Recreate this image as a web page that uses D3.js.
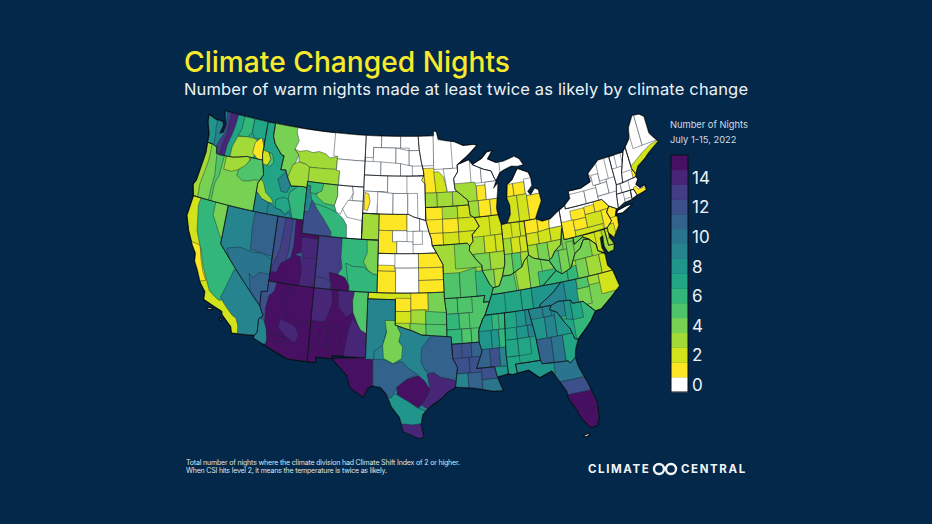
<!DOCTYPE html>
<html>
<head>
<meta charset="utf-8">
<script src="https://cdn.jsdelivr.net/npm/d3@7"></script>
<style>
  html, body { margin: 0; padding: 0; background: #03284a; }
  svg { display: block; }
  text { font-family: Inter, "Open Sans", sans-serif; }
</style>
</head>
<body>
<svg id="chart" width="932" height="524"></svg>
<script>
// Climate divisions, one pair of arrays per state. rings*[0] is the state outline,
// the other rings are painted over it in order and clipped to the outline.
// Points are "west longitude,latitude". nights*[i] belongs to rings*[i].
const ringsWA = ["124.7,48.38 123.6,48.15 122.8,48.15 122.6,47.9 122.85,47.2 122.4,47.35 122.3,48 122.55,48.5 122.75,49 117.03,49 117.04,46.42 116.92,46 118.98,46 119.3,45.93 120.5,45.7 121.2,45.65 122.2,45.6 122.7,45.65 122.8,46.1 123.4,46.25 124.05,46.27 124.1,46.9 124.6,47.8",
  "123.45,50 123.45,47.6 123.3,47 123.2,45 116,45 116,50", "122.6,50 122.3,48.2 122.2,47.4 122.6,46.8 122.9,46.2 122.9,45 116,45 116,50",
  "121.9,50 121.9,48 121.9,47.3 122.2,46.5 122.3,45 116,45 116,50", "120.8,50 121.1,48 121.3,47.3 121.6,46.5 121.7,45 116,45 116,50",
  "120,50 120.2,48 120.5,47.4 119.3,47.5 118.8,47.9 118.8,50", "118.8,50 118.8,47.9 118.3,47.5 117.6,47.6 117,47.6 116,50",
  "120.5,47.35 119.3,47.5 118.3,47.5 117.7,47.2 118,46.3 118.5,45 121,45 120.95,46.5", "118.2,47.2 117.5,47.7 116.9,46.9 116.8,45.9 117.4,45.9 118.3,46.4"];
const nightsWA = [8, 9, 13, 14, 7, 6, 7, 3, 1];

const ringsOR = ["124.05,46.27 123.95,45.5 124.1,44.5 124.3,43.2 124.55,42.84 124.2,42 117.03,42 117.03,44.2 116.5,44.9 116.92,46 118.98,46 119.3,45.93 120.5,45.7 121.2,45.65 122.2,45.6 122.7,45.65 122.8,46.1 123.4,46.25",
  "123.5,47 123.4,45 123.6,44 123.8,43 123.6,41 116,41 116,47", "122.8,47 122.5,45 122.3,44 122.4,43 122.4,41 116,41 116,47",
  "121.6,47 121.7,45 121.8,44 122.1,43.4 122.1,41 116,41 116,47", "121.4,47 121.4,44.6 120.4,44.6 119.5,44.9 118.9,45.2 118.5,45.7 118.5,47",
  "118.9,45.3 119.6,44.9 119.7,44.4 118.9,44.1 118.1,44.2 117.4,44.4 116,44.4 116,46.2 118.2,46.2 118.5,45.7"];
const nightsOR = [3, 4, 5, 4, 3, 5];

const ringsCA = ["124.2,42 124.4,40.4 123.8,39.3 123,38.3 122.5,37.8 122.4,37.2 121.9,36.6 121.3,35.7 120.65,35.15 120.6,34.55 119.3,34.2 118.5,34 118.4,33.75 117.3,33 117.1,32.53 114.7,32.72 114.5,33 114.55,34 114.15,34.3 114.63,35 120,39 120,42",
  "123.3,38.6 122.2,38.5 121.8,37.5 121.3,36.6 120.8,36 122.5,35.5 124,37", "123.2,42.5 123.4,41.4 123.1,40.3 122.9,39.5 122.3,38.6 121.9,38 121.4,37 120.7,36 120.2,35.3 119.6,35 119,34.75 118.6,34.9 118,34.5 116,34 116,43",
  "121.5,42.5 121.5,41 120.8,40.2 120.2,39.5 119,39 119,42.5", "118.9,35 118.4,34.6 118,34.3 117.4,33.9 116.9,33.7 116.6,33.2 116.4,32 113,32 113,37 118,37.3 118.5,36"];
const nightsCA = [2, 1, 6, 4, 9];

const ringsNV = ["120,42 114.05,42 114.05,36.2 114.7,36.1 114.63,35 120,39",
  "116.7,43 116.8,40.8 116.6,39.1 113,38.8 113,43", "119.2,38.8 117.8,39.1 116.2,38.9 115.2,39 114,38.6 113,38 113,35 117,35", "116.3,37.3 115.8,37 115.2,37.5 114,37.5 113,35 115.6,35"];
const nightsNV = [9, 11, 10, 11];

const ringsUT = ["114.05,42 111.05,42 111.05,41 109.05,41 109.05,37 114.05,37",
  "113,42.5 112.2,42.5 112.3,39.6 112.6,38.2 113.6,37.5 114,38 113.3,39.5", "111.9,42.5 108,42.5 108,40.3 110,40 110.8,39.6 111.6,39.3 112,38.8 111.8,40",
  "111,40.7 108,40.7 108,38.9 110.4,39 110.9,39.6", "113,38.5 112.2,38.9 111.6,39.3 110.9,39.2 110.6,38.2 110.6,37.5 111,36.5 114,36.5",
  "111,39.2 108,39.2 108,36.5 110.8,36.5 110.6,38.2", "115,37.75 113,37.75 112.5,37.3 112.5,36 115,36"];
const nightsUT = [12, 13, 15, 14, 15, 14, 15];

const ringsAZ = ["114.05,37 109.05,37 109.05,31.33 111.07,31.33 114.8,32.5 114.72,32.72 114.5,33 114.55,34 114.15,34.3 114.63,35 114.7,36.1 114.05,36.2",
  "111.5,37.2 108.5,37.2 108.5,34.5 110.5,34.2 111.6,34.6 112,35.5", "112.3,34.3 110.7,33.9 110.2,33.3 110.5,32.6 111.5,33 112.4,33.6",
  "115,37.2 113.1,37.2 113.3,36.3 113.8,35.9 114,35 113.9,34 115,33.5", "115,34.2 114,34 113.6,33.3 113.4,32.7 113.5,32.2 115.5,32",
  "113.6,33.3 112.4,33 111.5,33 111.6,32.6 113.4,32.5"];
const nightsAZ = [15, 15, 14, 12, 9, 15];

const ringsNM = ["109.05,37 103,37 103.04,36.5 103.06,32 106.5,32 106.6,31.75 108.2,31.78 108.2,31.33 109.05,31.33",
  "109.2,37.2 107.1,37.2 106.9,36 107.3,35 107.6,34.5 109.2,34.5", "106.4,37.2 104.5,37.2 104.7,36.3 104.6,35.4 105.3,35 106.2,35.7",
  "108,34 107.3,34.3 107.2,33.3 107.4,32.7 108.2,32.8", "106.8,34.2 106,34.2 105.9,33 106.1,32 107,32", "104.5,37.2 102.5,37.2 102.5,33.6 103.6,33.9 104.1,34.6 104.6,35.4 104.7,36.3",
  "104.6,35 103.7,34.1 102.5,33.6 102.5,31 105.3,31 105.3,32.5 105,34"];
const nightsNM = [15, 14, 14, 15, 15, 5, 14];

const ringsTX = ["103.04,36.5 100,36.5 100,34.56 98.1,34.1 97.2,33.8 94.5,33.6 94.04,33.55 94.04,33 94,31.9 93.55,31.2 93.85,29.7 94.7,29.35 95.3,28.9 96.4,28.35 97.2,27.7 97.4,26.9 97.15,25.95 97.6,25.85 99.1,26.4 99.5,27.5 100.3,28.3 100.8,29.25 101.4,29.77 102.3,29.88 102.7,29.7 103.15,28.98 104.5,29.65 104.9,30.6 106.5,31.75 103.06,32",
  "104,37 99.5,37 99.5,34.9 100.9,34.2 101.1,33.6 101.3,33 102.2,32.5 102.2,31.8 103.2,31.8", "101.1,34.9 99.9,34.9 99.7,34.3 99.4,33.9 99.6,33.3 99.2,32.9 99.3,32 100.2,31.6 101.2,32 101.3,33 100.9,34",
  "96,33.9 93.5,33.9 93.5,30.4 94.7,30.2 95.8,30.7 96.8,31 97.3,31.7 97.2,32.8", "99.8,29.8 98.8,30.4 97.6,30.7 97,30.3 96.4,29.6 96.8,28.9 97.6,28.2 98.6,28.7 99.7,29.1",
  "96.7,30.8 96,30.9 95.3,30.5 94.6,30.4 93.5,30.1 93.5,29 96.2,27.9 97.3,28.4 96.8,29 96.4,29.6", "100.9,29.5 99.7,29.2 98.6,28.7 97.7,28.2 97,28 96.9,27.2 97,26.5 99,26 101,26",
  "99.5,27 98.2,26.9 97.2,27 96.8,27 96.8,25 99.5,25", "102.3,31.9 101.2,31.9 100.2,31.6 99.3,31.8 98.5,31.2 97.7,30.8 98.8,30.4 99.8,29.8 100.3,29 101.2,29 102.2,29.5",
  "107,32.3 103.1,32.3 103.1,31.9 102.3,31.9 102.2,29 104,28 107,30"];
const nightsTX = [9, 9, 4, 11, 15, 14, 8, 14, 11, 15];

const ringsID = ["117.04,49 116.05,49 116.05,48 115.7,47.45 114.7,46.7 114.35,46.65 114.5,45.55 113.9,45.6 113.45,44.95 113,44.45 111.5,44.55 111.05,44.5 111.05,42 117.03,42 117.03,44.2 116.5,44.9 116.92,46 117.04,46.42",
  "117.2,46.8 116.3,46.7 115.9,46.2 116.2,45.7 117.2,45.7", "116.3,46.7 115.8,46.6 115.5,46 115.9,45.6 116.2,45.7 115.9,46.2", "114.7,44.8 113.8,45.5 113,44.6 113.4,43.9 114.1,43.9",
  "117.2,43.7 116.3,43.1 115.4,42.9 115.2,42.3 115,41.8 117.2,41.8", "117.2,44.6 116.4,44.4 115.9,43.6 115.1,43.2 114.8,42.9 115.4,42.9 116.3,43.1 117.2,43.7",
  "115.4,42.9 114.5,42.6 113.8,42.5 113.3,42.2 112.8,42.5 112.6,42.2 112.3,41.8 115.4,41.8", "114.6,43.2 113.7,43.5 113.1,43.4 112.7,42.7 113.3,42.2 113.8,42.5 114.5,42.6",
  "113.1,43.9 112,44.6 110.9,44.6 110.9,41.8 112.3,41.8 112.7,42.7 113.1,43.4"];
const nightsID = [7, 2, 5, 9, 9, 3, 9, 7, 6];

const ringsMT = ["116.05,49 104.05,49 104.05,45 111.05,45 111.05,44.5 111.5,44.55 113,44.45 113.45,44.95 113.9,45.6 114.5,45.55 114.35,46.65 114.7,46.7 115.7,47.45 116.05,48",
  "117,50 113.1,50 113.1,48.6 112.7,48 113.1,47.3 112.5,46.9 113,45.9 112.9,44 117,44", "113.1,46.1 112.4,46.4 111.5,46.3 111,46.1 110.9,44 114,44",
  "112.5,46.9 113.1,47.3 112.5,47.2 111.5,47.35 110.8,47.25 110,47.4 109.2,47.3 108.5,47 107.6,47.2 107.6,46.1 111,46.1 111.5,46.3 112.4,46.4", "111,46.1 107.2,46.2 107.2,44 111,44",
  "108.1,50 108.1,47.2 107.6,47.2 107.6,47 103,47 103,50", "107.6,47 103,47 103,44 107.2,44 107.2,46.1 107.6,46.1"];
const nightsMT = [0, 4, 3, 3, 3, 0, 0];

const ringsWY = ["111.05,45 104.05,45 104.05,41 111.05,41",
  "111.5,45.3 106.2,45.3 106.9,44.3 107.3,43.1 107.6,42.3 108.5,42 110,43.4 111.5,43.4", "109.2,45.2 107.3,45.2 107.2,44.2 107.5,43.4 108.8,43.5 109.8,44",
  "107.3,45.2 105.5,45.2 105.3,44.5 105.8,43.8 106.5,43.2 106.7,42.8 107.2,42.9 107.5,43.4 107.2,44.2", "105.5,45.2 103.9,45.2 103.9,43.9 105.4,43.9 105.3,44.5",
  "105.9,43.9 103.9,43.9 103.9,42.4 105.9,42.6 106.5,43.2", "110,43.4 108.5,43.2 107.2,42.9 106.4,42.5 105.9,42 105.8,40.8 107.6,40.8", "111.5,43 110.4,43.4 110.2,43.6 109.6,43 108.8,42.4 107.7,41.4 107.6,40.8 111.5,40.8",
  "111.5,44.7 110.6,44.7 110.6,44.3 110.3,43.6 110.5,42.7 111.5,42.7", "111.5,45.3 108.9,45.3 109.2,44.4 110,44.1 110.6,44.2 110.6,44.7 111.5,44.7"];
const nightsWY = [0, 6, 4, 0, 0, 0, 6, 12, 9, 6];

const ringsCO = ["109.05,41 102.05,41 102.05,37 109.05,37",
  "103.4,41.2 101,41.2 101,38.2 102.6,38.4 103.2,38.7 103.7,39.3 103.3,40", "105.7,39.1 104.9,38.9 103.7,38.9 102.6,38.4 101,38.3 101,36 105.2,36 105.3,37.5", "110,41.3 106.3,41.3 106.3,39.5 106.1,38.7 107,37.7 107.5,37.6 108,37.3 110,36.9",
  "107.5,38.3 106.5,38.2 105.7,38 105.2,37.4 105.2,36.8 107.2,36.8 107.3,37.5", "110,38 108,37.8 107.4,37.6 107.2,36.8 110,36.8"];
const nightsCO = [6, 4, 6, 13, 15, 13];

const ringsND = ["104.05,49 97.2,49 97.1,48 96.85,47 96.6,46.3 96.55,45.94 104.05,45.94",
  "105,50 102,50 102,48.1 103,48.1 103,47.3 105,47.3", "102,50 99.5,50 99.5,48.1 102,48.1", "99.5,50 96,50 96,47.9 98.4,47.9 98.4,48.1 99.5,48.1", "103,48.1 100.1,48.1 100.1,46.9 103,46.9", "100.1,48.1 98.4,47.9 98.4,46.7 100.1,46.9",
  "98.4,47.9 96,47.9 96,46.7 98.4,46.7", "105,47 102,47 102,45 105,45", "102,47 99.5,46.9 99.5,45 102,45", "99.5,46.9 98,46.7 98,45 99.5,45"];
const nightsND = [0, 0, 0, 0, 0, 0, 0, 0, 0, 0];

const ringsSD = ["104.05,45.94 96.55,45.94 96.45,45.3 96.45,43.5 96.45,42.5 97.9,42.8 98.5,43 104.05,43",
  "105,47 101.1,47 101.1,44.7 105,44.7", "101.1,47 98.7,47 98.7,44.6 101.1,44.6", "105,44.7 101.5,44.7 101.5,43.7 102.3,43.7 102.3,42 105,42", "103.9,44.6 103.4,44.5 103.2,43.9 103.5,43.2 103.9,43.3", "102.3,44.7 100.4,44.6 100.4,42 102.3,42",
  "100.4,44.6 98.6,44.6 98.6,42 100.4,42", "98.6,44.6 97.4,44.6 97.4,42 98.6,42"];
const nightsSD = [0, 0, 0, 0, 1, 0, 0, 0];

const ringsNE = ["104.05,43 98.5,43 97.9,42.8 96.45,42.5 96.1,41.6 95.85,41.1 95.77,40.58 95.3,40 102.05,40 102.05,41 104.05,41",
  "102.05,44 98.7,44 98.7,41.75 102.05,41.75", "102.05,41.75 100.4,41.75 100.4,40.95 99.9,40.95 99.9,39.5 102.05,39.5", "100.4,41.75 98.7,41.75 98.7,40.9 100.4,40.9",
  "99.9,40.95 98,40.9 98,39.5 99.9,39.5", "98.7,43.5 97.2,43.5 97.2,41.7 98.7,41.7", "97.2,43.5 95,43.5 95,41.7 97.2,41.7", "98,41.7 96.9,41.7 96.9,40.7 98,40.7"];
const nightsNE = [0, 1, 1, 0, 0, 0, 0, 0];
// the panhandle is painted last so its green sits on top of the white base
const ringsNEP = ["104.05,43 102.05,43 102.05,41 104.05,41"];
const nightsNEP = [3];

const ringsKS = ["102.05,40 95.3,40 94.62,39.1 94.62,37 102.05,37",
  "102.05,39.1 100.1,39.1 100.1,38.65 102.05,38.65", "103,38.65 100,38.65 100,36 103,36", "100.1,40.5 97.4,40.5 97.4,38.9 100.1,38.9", "100,38.9 97.4,38.9 97.4,36 100,36",
  "97.4,41 94,41 94,38.9 97.4,38.9", "97.4,38.9 94,38.9 94,37.95 97.4,37.95", "97.4,37.95 94,37.95 94,36 97.4,36"];
const nightsKS = [0, 1, 1, 0, 0, 1, 1, 1];

const ringsOK = ["103,37 94.62,37 94.6,36.5 94.45,35.4 94.5,33.6 97.2,33.8 98.1,34.1 100,34.56 100,36.5 103.04,36.5",
  "100,36.6 98.3,36.6 98.3,35.6 100,35.6", "98.3,37.1 96.4,37.1 96.4,35.7 98.3,35.7", "96.4,37.1 94,37.1 94,35.4 96.4,35.4", "100,35.6 98.3,35.6 98.3,34.6 100,34.6", "98.3,35.7 96.7,35.7 96.7,34.6 98.3,34.6",
  "96.7,35.6 94,35.4 94,34.5 96.7,34.5", "100,34.7 98.4,34.7 98.4,33 100,33", "98.4,34.7 96.7,34.6 96.7,33 98.4,33", "96.7,34.6 94,34.5 94,33 96.7,33"];
const nightsOK = [2, 1, 1, 4, 2, 3, 5, 3, 4, 5];

const ringsMN = ["97.2,49 95.15,49 95.15,49.38 94.8,49.3 94.6,48.7 93.5,48.55 92.5,48.45 91.4,48.1 90,48.1 89.6,48 90.9,47.3 92.1,46.75 92.3,46.65 92.3,46.1 92.85,45.6 92.75,44.75 91.25,43.85 91.2,43.5 96.45,43.5 96.45,45.3 96.85,45.6 96.55,46 96.6,46.3 96.85,47 97.1,48",
  "98,50 95.2,50 95.2,47.6 95.3,46.7 98,46.7", "95.2,50 93,50 92.9,46.4 95.3,46.4", "97.5,46.5 95.3,46.5 95.2,45.9 95.1,44.6 97.5,44.6", "95.3,46.2 94.7,46.2 94.1,45.8 93.7,44.6 95.1,44.6", "94.1,46.4 92,46.4 92,44.6 93.7,44.6",
  "97,44.6 95,44.6 95,43 97,43", "95,44.6 93.1,44.6 93.1,43 95,43", "93.1,44.6 91,44.6 91,43 93.1,43"];
const nightsMN = [0, 0, 0, 1, 2, 0, 3, 3, 3];

const ringsWI = ["92.3,46.65 90.8,46.95 90.4,46.55 89,46.1 88.1,45.9 87.8,45.35 87.6,45.1 88,44.55 87.4,44.9 87.55,44.3 87.9,43 87.8,42.5 90.65,42.5 91.1,42.7 91.2,43.5 91.25,43.85 92.75,44.75 92.85,45.6 92.3,46.1",
  "90.7,47 89.4,47 89.4,45.1 90.7,45.1", "89.4,47 87,47 87,45.1 89.4,45.1", "93,45.2 90.3,45.2 90.1,44.9 90.1,43.75 93,43.75", "90.1,44.9 89,44.9 89,43.75 90.1,43.75", "89,45.1 87,45.1 87,43.75 89,43.75",
  "91.5,43.75 90,43.75 90,42 91.5,42", "90,43.75 88.6,43.75 88.6,42 90,42", "88.6,43.75 87,43.75 87,42 88.6,42"];
const nightsWI = [0, 0, 0, 3, 1, 0, 3, 1, 1];

const ringsUP = ["90.4,46.55 89.1,46.95 88.4,47.4 87.7,47.45 88.4,46.85 87.4,46.5 86.5,46.5 85,46.75 84.4,46.5 84,46 84.75,45.95 85.5,46.05 86.5,45.85 87,45.7 87.6,45.1 87.8,45.35 88.1,45.9 89,46.1", "87,47 83,47 83,45 87,45"];
const nightsUP = [0, 0];

const ringsLP = ["84.75,45.78 83.5,45.35 83.3,44.9 83.3,44.3 83.9,43.9 83.6,43.6 83,44.05 82.6,43.9 82.45,43 83.1,42.2 83.45,41.73 86.8,41.76 86.3,42.4 86.25,43.1 86.5,43.65 86.25,44.7 85.6,45 85,45.6",
  "87,44.7 85.6,44.7 85.6,43.75 87,43.75", "85.6,44.7 84.2,44.7 84.2,43.75 85.6,43.75", "84.2,44.9 82,44.9 82,43.6 84.2,43.6", "87,43.75 85.3,43.75 85.3,41 87,41", "85.3,43.75 84.1,43.75 84.1,41 85.3,41", "84.1,43.6 82,43.6 82,41 84.1,41"];
const nightsLP = [0, 1, 1, 0, 2, 2, 1];

const ringsIA = ["96.45,43.5 91.2,43.5 91.1,42.7 90.65,42.5 90.15,41.8 91.05,41.2 91,40.7 91.42,40.38 91.7,40.6 95.77,40.58 95.85,41.1 96.1,41.6 96.45,42.5",
  "94.45,44 92.6,44 92.6,42.55 94.45,42.55", "92.6,44 90,44 90,42.55 92.6,42.55", "97,42.55 94.45,42.55 94.45,41.5 97,41.5", "94.45,42.55 92.6,42.55 92.6,41.5 94.45,41.5", "92.6,42.55 90,42.55 90,41.5 92.6,41.5",
  "97,41.5 94.45,41.5 94.45,40 97,40", "94.45,41.5 92.6,41.5 92.6,40 94.45,40", "92.6,41.5 90,41.5 90,40 92.6,40"];
const nightsIA = [1, 3, 2, 1, 1, 2, 1, 2, 2];

const ringsMO = ["95.77,40.58 91.7,40.6 91.42,40.38 91.5,40 90.75,39.25 90.2,38.8 90.2,38.4 89.5,37.3 89.15,37 89.4,36.5 89.7,36 90.35,36 90.15,36.5 94.6,36.5 94.62,39.1 95.3,40",
  "93.2,41 90,41 90,38.7 93.2,38.7", "96,38.4 92.8,38.4 92.8,36 96,36", "92.8,38.4 90.9,38.7 90.9,36 92.8,36", "91,38.4 89,38.4 89,35.5 91,35.5"];
const nightsMO = [3, 4, 5, 5, 6];

const ringsIL = ["90.65,42.5 87.8,42.5 87.53,41.7 87.53,39.35 87.6,38.7 88,37.8 88.45,37.1 89.15,37 89.5,37.3 90.2,38.4 90.2,38.8 90.75,39.25 91.5,40 91.42,40.38 91,40.7 91.05,41.2 90.15,41.8",
  "88.9,43 87,43 87,41 88.9,41", "92,41 89.7,41 89.7,39.7 92,39.7", "89.7,41 88.4,41 88.4,39.7 89.7,39.7", "88.4,41 87,41 87,39.7 88.4,39.7", "91,39.7 89.2,39.7 89.2,38.4 91,38.4", "89.2,39.7 87,39.7 87,38.4 89.2,38.4", "91,38.4 88.9,38.4 88.9,36.5 91,36.5", "88.9,38.4 87,38.4 87,36.5 88.9,36.5"];
const nightsIL = [2, 2, 3, 2, 2, 4, 3, 4, 3];

const ringsIN = ["87.53,41.7 86.8,41.76 84.8,41.7 84.8,39.1 85.4,38.7 85.7,38.3 86.5,38 87.1,37.8 88,37.8 87.6,38.7 87.53,39.35",
  "86.4,42 85.4,42 85.4,40.6 86.4,40.6", "85.4,42 84,42 84,40.6 85.4,40.6", "88,40.6 86.6,40.6 86.6,39.4 88,39.4", "86.6,40.6 85.6,40.6 85.6,39.4 86.6,39.4", "85.6,40.6 84,40.6 84,39.4 85.6,39.4", "88,39.4 86.7,39.4 86.7,37.5 88,37.5", "86.7,39.4 85.7,39.4 85.7,37.5 86.7,37.5", "85.7,39.4 84,39.4 84,38 85.7,38"];
const nightsIN = [2, 2, 2, 3, 2, 2, 4, 5, 3];

const ringsOH = ["84.8,41.7 83.45,41.73 82.7,41.45 81.7,41.5 80.52,42 80.52,40.64 80.6,40.6 81,39.4 81.8,39 82.2,38.6 82.6,38.4 83.7,38.65 84.3,38.8 84.8,39.1",
  "85,42 83.3,42 83.3,40.7 85,40.7", "83.3,42 81.8,42 82,40.8 83.3,40.7", "81.8,42 80,42 80,40.8 82,40.8", "85,40.7 83.4,40.7 83.4,39.8 85,39.8", "83.4,40.7 82,40.8 82,39.8 83.4,39.8", "82,40.8 80,40.8 80,39.8 82,39.8",
  "85,39.8 83.7,39.8 83.7,38 85,38", "83.7,39.8 82.5,39.8 82.5,38 83.7,38", "82.5,39.8 80,39.8 80,38 82.5,38"];
const nightsOH = [3, 1, 1, 0, 2, 2, 2, 3, 4, 3];

const ringsKY = ["89.4,36.5 89.15,37 88.45,37.1 88,37.8 87.1,37.8 86.5,38 85.7,38.3 85.4,38.7 84.8,39.1 84.3,38.8 83.7,38.65 82.6,38.4 82,37.55 83.68,36.6",
  "90,39 86.9,39 86.5,36 90,36", "86.6,39 85,39 85,36 86.3,36", "85,39.5 83.6,39.5 83.4,36 85,36", "84,37.7 81,37.7 81,36 84,36"];
const nightsKY = [4, 5, 3, 4, 6];

const ringsTN = ["90.3,35 89.7,36 89.4,36.5 83.68,36.6 81.68,36.59 82.6,36 83.1,35.75 84.3,35.2 84.32,35",
  "88,37 86.2,37 86.2,34 88,34", "86.2,37 85,37 85,34 86.2,34", "85,37 81,37 81,34 85,34"];
const nightsTN = [7, 7, 7, 8];

const ringsAR = ["94.6,36.5 90.15,36.5 90.35,36 89.7,36 90.3,35 90.6,34.7 91.1,33.9 91.15,33 94.04,33 94.04,33.55 94.5,33.6 94.45,35.4",
  "95,37 93.2,37 93.2,35.3 95,35.3", "93.2,37 91.6,37 91.6,35.3 93.2,35.3", "95,35.3 93.1,35.3 93.1,34.1 95,34.1", "93.1,35.3 92,35.3 92,34.1 93.1,34.1", "95,34.1 92.9,34.1 92.9,32 95,32", "92.9,34.1 91.9,34.1 91.9,32 92.9,32", "91.9,34.1 90,34.1 90,32 91.9,32"];
const nightsAR = [5, 5, 5, 6, 5, 6, 5, 5];

const ringsLA = ["94.04,33 91.15,33 90.9,32.3 91.6,31 89.75,31 89.55,30.2 89.4,29.8 89.1,29.1 90.1,29.15 91.3,29.4 92.2,29.55 93.85,29.7 93.55,31.2 94,31.9",
  "93,33.5 92,33.5 92,31.9 93,31.9", "92,33.5 90.5,33.5 90.5,31.9 92,31.9", "94.5,31.9 92.3,31.9 92.3,30.7 94.5,30.7", "92.3,31.9 90.5,31.9 90.5,30.7 92.3,30.7", "94.5,30.7 92.5,30.7 92.5,29 94.5,29", "92.5,30.7 91.1,30.7 91.1,29 92.5,29", "91.1,31.1 89,31.1 89,30.1 91.1,30.1", "91.1,30.1 88.8,30.1 88.8,28.8 91.1,28.8"];
const nightsLA = [12, 12, 11, 12, 12, 9, 11, 12, 10];

const ringsMS = ["90.3,35 88.2,35 88.45,31.9 88.4,30.35 89.55,30.2 89.75,31 91.6,31 90.9,32.3 91.15,33 91.1,33.9 90.6,34.7",
  "89.6,35.5 88.8,35.5 88.8,33.8 89.6,33.8", "88.9,35.5 87.9,35.5 87.9,33.8 88.9,33.8", "92,33.8 89.8,33.8 89.8,32.4 92,32.4", "89.8,33.8 89,33.8 89,32.4 89.8,32.4", "89,33.8 87.9,33.8 87.9,32.4 89,32.4",
  "92,32.4 90.1,32.4 90.1,31 92,31", "90.1,32.4 89.1,32.4 89.1,31 90.1,31", "89.1,32.4 88,32.4 88,30.9 89.1,31", "90,31 88,30.9 88,30 90,30"];
const nightsMS = [7, 6, 6, 8, 8, 6, 11, 12, 9, 8];

const ringsAL = ["88.2,35 85.6,35 85.18,32.9 85.1,32 85,31 87.6,31 87.5,30.3 88,30.25 88.4,30.35 88.45,31.9",
  "87,35.5 86,35.5 86,33.8 87,33.8", "86,35.5 85,35.5 85,33.8 86,33.8", "89,33.8 87.1,33.8 87.1,32.9 89,32.9", "87.1,33.8 85.9,33.8 85.9,32.9 87.1,32.9", "85.9,33.8 85,33.8 85,32.9 85.9,32.9", "89,32.9 87.1,32.9 87.1,31.6 89,31.6", "87.1,32.9 85.8,32.9 85.8,31.6 87.1,31.6", "89,31.6 87.1,31.6 87.1,29 89,29"];
const nightsAL = [7, 8, 9, 7, 8, 9, 7, 7, 7];

const ringsGA = ["85.6,35 83.1,35 83.35,34.7 82.6,34.4 81.95,33.5 81.5,33 81.15,32.1 80.85,32.05 81.3,31.3 81.45,30.7 82.05,30.36 82.2,30.57 84.86,30.71 85,31 85.1,32 85.18,32.9",
  "86,36 84.1,36 84.1,34.1 86,34.1", "84.1,36 83.2,36 83.2,34.2 84.1,34.2", "86,34.2 84,34.2 84,32.6 86,32.6", "84,34.2 82.9,34.2 82.9,32.6 84,32.6", "82.9,34.5 81,34.5 81,32.6 82.9,32.6",
  "86,32.6 83.6,32.6 83.6,30 86,30", "83.6,32.6 82.4,32.6 82.4,30 83.6,30", "82.4,32.6 80,32.6 80,30 82.4,30"];
const nightsGA = [9, 9, 9, 8, 9, 8, 11, 10, 7];

const ringsFL = ["87.6,31 85,31 84.86,30.71 82.2,30.57 82.05,30.36 81.45,30.7 81.3,30 80.6,28.5 80.05,26.9 80.15,25.75 80.4,25.2 81.1,25.15 81.8,26.1 82.2,26.9 82.7,27.7 82.8,28.3 83.4,29.2 84,30.05 85.3,29.7 86.3,30.4 87.5,30.3",
  "83.7,31 80,31 80,29.1 83.7,29.1", "83.7,29.1 80,29.1 80,28 83.7,28", "83.7,28 79.5,28 79.5,26.5 83.7,26.5", "83.7,26.65 79.5,26.65 79.5,24.8 83.7,24.8"];
const nightsFL = [8, 10, 12, 15, 15];

const ringsSC = ["83.1,35 82.3,35.2 80.95,35.1 80.8,34.82 79.67,34.8 78.55,33.86 79.2,33.2 79.9,32.7 80.85,32.05 81.15,32.1 81.5,33 81.95,33.5 82.6,34.4 83.35,34.7",
  "84,35.5 81.7,35.5 81.7,34 84,34", "81.7,35.5 81,35.5 81,33.6 81.7,33.6", "82.5,33.9 81,33.6 81,31.9 82.5,31.9", "81,35.5 79.9,35.5 79.9,33.6 81,33.6"];
const nightsSC = [6, 9, 8, 7, 7];

const ringsNC = ["84.32,35 84.3,35.2 83.1,35.75 82.6,36 81.68,36.59 75.87,36.55 75.5,35.25 76.5,34.65 77.9,33.9 78.55,33.86 79.67,34.8 80.8,34.82 80.95,35.1 82.3,35.2 83.1,35",
  "85,36 81.4,37 81.4,35 85,34.5", "81.4,37 80,37 80,34.7 81.4,34.7", "80,37 78.7,37 78.7,35.8 80,35.8", "80.1,35.8 78.7,35.8 78.7,34.5 80.1,34.5", "78.7,37 77.5,37 77.5,35.9 78.7,35.9", "77.5,37 75,37 75,35 77.5,35"];
const nightsNC = [4, 9, 8, 5, 4, 3, 2];

const ringsVA = ["83.68,36.6 75.87,36.55 76.3,37 76.3,37.9 77,38.3 77.05,38.8 77.7,39.3 78.35,39.4 78.9,38.8 79.6,38.5 80.3,37.5 81.4,37.2 81.97,37.54",
  "84,37.6 80.8,37.6 80.8,36 84,36", "80.8,37.6 79.7,37.6 79.7,36 80.8,36", "79.7,38 78.5,38 78.5,36 79.7,36", "80,40 77.7,40 77.7,38 80,38", "78.5,38 77,38 77,36 78.5,36", "77,38 75,38 75,36 77,36"];
const nightsVA = [3, 6, 6, 4, 4, 3, 2];

const ringsWV = ["80.52,40.64 80.52,39.72 79.48,39.72 79.48,39.2 78.4,39.6 77.7,39.3 78.35,39.4 78.9,38.8 79.6,38.5 80.3,37.5 81.4,37.2 81.97,37.54 82.6,38.4 82.2,38.6 81.8,39 81,39.4 80.6,40.6",
  "82,41 80.8,41 80.8,39 82,39", "83,39 81.4,39 81.4,37 83,37", "81.4,39 80.4,39 80.4,37 81.4,37", "80.4,39.5 79.6,39.5 79.6,37 80.4,37"];
const nightsWV = [4, 4, 5, 4, 4];

const ringsPA = ["80.52,42 79.76,42.27 79.76,42 75.35,42 74.7,41.36 75.1,40.95 74.75,40.2 75.4,39.8 80.52,39.72",
  "79.3,41.75 77.6,41.75 77.6,41 79.3,41", "81,41.05 79.1,41.05 79.1,39 81,39", "79.1,41 77.6,41 77.6,40.2 79.1,40.2", "79.1,40.2 75.8,40.2 75.8,39 79.1,39", "77.6,41.8 76.4,41.8 76.4,41.2 77.6,41.2", "77.6,41.2 75.7,41.2 75.7,40.2 77.6,40.2", "76.4,42.5 74,42.5 74,41.2 76.4,41.2", "75.7,41.2 74,41.2 74,39 75.7,39"];
const nightsPA = [0, 1, 1, 1, 2, 1, 2, 1, 1];

const ringsNY = ["79.76,42.27 79.76,42 75.35,42 74.7,41.36 73.9,41 73.65,41 73.5,42.05 73.25,42.75 73.35,45 74.7,45 76.3,44.2 76.2,43.55 77.5,43.25 79.05,43.27 79,42.7",
  "76.6,45 73,45 73,43.2 75.8,43.2", "80,43 77.2,43 77.2,41 80,41", "77.2,43 75.7,43 75.7,41 77.2,41", "75.7,43.2 74.3,43.2 74.3,42.3 75.7,42.3", "74.3,43.4 73,43.4 73,42 74.3,42", "75.7,42.3 72,42.3 72,40 75.7,40", "76,44 75.1,44 75.1,43.2 76,43.2", "75.1,45 74,45 74,43.4 75.1,43.4"];
const nightsNY = [0, 0, 0, 0, 0, 0, 0, 0, 0];

const ringsLI = ["74,40.6 73.3,40.55 72,40.95 72.6,40.98 73.8,40.82"];
const nightsLI = [0];

const ringsNJ = ["74.7,41.36 73.9,41 74.2,40.5 74,40.4 74.1,39.7 74.9,38.95 75.5,39.5 75.4,39.8 74.75,40.2 75.1,40.95", "75,40.45 73,40.45 73,38 75,38", "76,40 74.6,40 74.6,38 76,38"];
const nightsNJ = [1, 1, 2];

const ringsDE = ["75.4,39.8 75.79,39.72 75.7,38.46 75.05,38.45 75.4,39", "76,39 75,39 75,38 76,38"];
const nightsDE = [2, 3];

const ringsMD = ["79.48,39.72 75.79,39.72 75.7,38.46 75.05,38.45 75.25,38.03 75.9,37.95 76.2,38.5 76.1,39.3 76.45,39.2 76.5,38.4 76.3,38 77,38.3 77.05,38.8 77.7,39.3 78.4,39.6 79.48,39.2",
  "78.4,40 80,40 80,39 78.4,39", "77,40 76.1,40 76.1,38 77,38", "76.2,40 74.9,40 74.9,37.8 76.2,37.8"];
const nightsMD = [2, 4, 2, 3];

const ringsCT = ["73.65,41 73.5,42.05 71.8,42.02 71.85,41.32 72.9,41.25", "74,42.1 72.7,42.1 72.7,40.9 74,40.9", "72.7,41.5 71,41.5 71,41 72.7,41"];
const nightsCT = [0, 0, 0];
const ringsRI = ["71.8,42.02 71.4,42 71.15,41.5 71.85,41.32"];
const nightsRI = [0];
const ringsMA = ["73.5,42.05 73.25,42.75 70.8,42.87 70.6,42.65 71,42.3 70.6,41.95 70,42.05 70,41.65 70.65,41.55 71.15,41.5 71.4,42 71.8,42.02",
  "74,43 72.8,43 72.8,41.8 74,41.8", "72.8,43 71.8,43 71.8,41.8 72.8,41.8", "71.1,42.2 70.85,41.9 69.5,41.9 69.5,41 71.3,41 71.4,42.1"];
const nightsMA = [0, 0, 0, 1];
const ringsVT = ["73.35,45 71.5,45 72.05,44 72.3,43.5 72.45,42.73 73.25,42.75", "72.7,45.2 71.9,45.2 71.9,44 72.7,43.9", "73.5,44 72,44 72,42.6 73.5,42.6"];
const nightsVT = [0, 0, 0];
const ringsNH = ["71.5,45.02 71.1,45.3 71,43.6 70.7,43.07 70.8,42.87 72.45,42.73 72.3,43.5 72.05,44", "72.5,43.5 71,43.5 71,42.6 72.5,42.6", "71.1,43.4 70.4,43.4 70.4,42.7 71.1,42.7"];
const nightsNH = [0, 0, 1];
const ringsME = ["71.1,45.3 70.4,45.8 70,46.7 69.2,47.45 68.3,47.35 67.8,47.05 67.8,45.7 67.45,45.3 67,44.85 68.5,44.3 69.1,44 70.2,43.6 70.7,43.07 71,43.6",
  "70.2,48 69,48 69,45 70.2,45", "69,48 67,48 67,45 69,45", "71.5,43.6 70.4,44 69.3,44.45 68,44.85 66.5,45 66.5,42.5 71.5,42.5"];
const nightsME = [0, 0, 0, 2];

// channel islands and the keys
const ringsIS1 = ["120.1,34 119.6,34.05 119.5,33.95 120,33.9"];
const ringsIS2 = ["118.6,33.45 118.35,33.4 118.35,33.3 118.55,33.35"];
const ringsIS3 = ["81.85,24.62 81.4,24.72 81.3,24.6 81.7,24.52"];
const nightsIS = [0];

const stateRings = [ringsWA, ringsOR, ringsCA, ringsNV, ringsUT, ringsAZ, ringsNM, ringsTX, ringsID, ringsMT, ringsWY, ringsCO, ringsND, ringsSD, ringsNE, ringsNEP, ringsKS, ringsOK,
  ringsMN, ringsWI, ringsUP, ringsLP, ringsIA, ringsMO, ringsIL, ringsIN, ringsOH, ringsKY, ringsTN, ringsAR, ringsLA, ringsMS, ringsAL, ringsGA, ringsFL, ringsSC, ringsNC, ringsVA, ringsWV,
  ringsPA, ringsNY, ringsLI, ringsNJ, ringsDE, ringsMD, ringsCT, ringsRI, ringsMA, ringsVT, ringsNH, ringsME, ringsIS1, ringsIS2, ringsIS3];
const stateNights = [nightsWA, nightsOR, nightsCA, nightsNV, nightsUT, nightsAZ, nightsNM, nightsTX, nightsID, nightsMT, nightsWY, nightsCO, nightsND, nightsSD, nightsNE, nightsNEP, nightsKS, nightsOK,
  nightsMN, nightsWI, nightsUP, nightsLP, nightsIA, nightsMO, nightsIL, nightsIN, nightsOH, nightsKY, nightsTN, nightsAR, nightsLA, nightsMS, nightsAL, nightsGA, nightsFL, nightsSC, nightsNC, nightsVA, nightsWV,
  nightsPA, nightsNY, nightsLI, nightsNJ, nightsDE, nightsMD, nightsCT, nightsRI, nightsMA, nightsVT, nightsNH, nightsME, nightsIS, nightsIS, nightsIS];

const legendSteps = d3.range(0, 16);
const legendTicks = [0, 2, 4, 6, 8, 10, 12, 14];
const titleText = 'Climate Changed Nights';
const subtitleText = 'Number of warm nights made at least twice as likely by climate change';
const legendTitle = ['Number of Nights', 'July 1-15, 2022'];
const footnote = ['Total number of nights where the climate division had Climate Shift Index of 2 or higher.',
  'When CSI hits level 2, it means the temperature is twice as likely.'];

const svg = d3.select('#chart');

const nightColor = v => v === 0 ? '#ffffff' : d3.interpolateViridis(0.04 + 0.96 * (15 - v) / 14);

// Albers turned a little west, then stretched on to the picture: the reference map is
// taller than true Albers and its middle sits further east, hence the third x anchor
const projection = d3.geoAlbers().rotate([99, 0]).scale(1).translate([0, 0]);
const xScale = d3.scaleLinear()
  .domain([projection([-124.4, 40.4])[0], projection([-109.05, 37])[0], projection([-67, 44.85])[0]])
  .range([187, 314, 658]);
const yScale = d3.scaleLinear()
  .domain([projection([-95.15, 49.38])[1], projection([-97.15, 25.95])[1]]).range([131, 437]);

const parseRing = s => s.trim().split(/\s+/).map(p => {
  const [lon, lat] = p.split(',').map(Number);
  return [-lon, lat];
});

// long edges are cut up so that parallels come out curved
const dense = ring => {
  const out = [];
  ring.forEach((a, i) => {
    const b = ring[(i + 1) % ring.length];
    const n = Math.max(Math.ceil(Math.abs(a[0] - b[0])), 1);
    for (let k = 0; k < n; k++) {
      out.push([a[0] + (b[0] - a[0]) * k / n, a[1] + (b[1] - a[1]) * k / n]);
    }
  });
  return out;
};

const ringPath = d3.line()
  .x(d => xScale(projection(d)[0]))
  .y(d => yScale(projection(d)[1]));
const toPath = s => ringPath(dense(parseRing(s))) + 'Z';

const defs = svg.append('defs');
const map = svg.append('g');

// black under everything: only its outer half shows, as the heavier coast line
map.append('g').selectAll('path').data(stateRings).join('path')
  .attr('d', rings => toPath(rings[0]))
  .attr('fill', '#0a0f14')
  .attr('stroke', '#05080b')
  .attr('stroke-width', 1.5)
  .attr('stroke-linejoin', 'round');

stateRings.forEach((rings, i) => {
  const nights = stateNights[i];
  defs.append('clipPath').attr('id', 'clip-' + i)
    .append('path').attr('d', toPath(rings[0]));
  map.append('g').attr('clip-path', `url(#clip-${i})`)
    .selectAll('path').data(rings).join('path')
    .attr('d', toPath)
    .attr('fill', (d, j) => nightColor(nights[j]))
    .attr('stroke', '#1b2a35')
    .attr('stroke-width', 0.45)
    .attr('stroke-linejoin', 'round');
});

// state lines on top
map.append('g').selectAll('path').data(stateRings).join('path')
  .attr('d', rings => toPath(rings[0]))
  .attr('fill', 'none')
  .attr('stroke', '#10181f')
  .attr('stroke-width', 0.6)
  .attr('stroke-linejoin', 'round');

// titles
svg.append('text').text(titleText)
  .attr('x', 184).attr('y', 72)
  .attr('fill', '#f7ea2c').attr('font-size', 29).attr('font-weight', 500)
  .attr('textLength', 326).attr('lengthAdjust', 'spacingAndGlyphs');
svg.append('text').text(subtitleText)
  .attr('x', 184).attr('y', 95)
  .attr('fill', '#eef2f6').attr('font-size', 16.5)
  .attr('textLength', 564).attr('lengthAdjust', 'spacing');

// legend
const legendY = d3.scaleBand().domain(legendSteps).range([392, 155]);
const legend = svg.append('g');
legend.selectAll('rect').data(legendSteps).join('rect')
  .attr('x', 671).attr('width', 17)
  .attr('y', d => legendY(d)).attr('height', legendY.bandwidth() + 0.3)
  .attr('fill', nightColor);
legend.append('rect')
  .attr('x', 671).attr('y', 155).attr('width', 17).attr('height', 237)
  .attr('fill', 'none').attr('stroke', '#0a0f14').attr('stroke-width', 1);
legend.selectAll('text.tick').data(legendTicks).join('text')
  .attr('class', 'tick')
  .attr('x', 692)
  .attr('y', d => legendY(d) + legendY.bandwidth() / 2 + 6.5)
  .attr('fill', '#eef2f6').attr('font-size', 17)
  .text(d => d);
legend.selectAll('text.head').data(legendTitle).join('text')
  .attr('class', 'head')
  .attr('x', 670).attr('y', (d, i) => 128 + i * 15)
  .attr('fill', '#d3dbe2').attr('font-size', 9.3)
  .text(d => d);

// footnote
svg.selectAll('text.note').data(footnote).join('text')
  .attr('class', 'note')
  .attr('x', 186).attr('y', (d, i) => 465 + i * 7.6)
  .attr('fill', '#dfe6ec').attr('font-size', 7)
  .attr('textLength', (d, i) => i === 0 ? 274 : 201)
  .text(d => d);

// logo
const logo = svg.append('g').attr('fill', '#f2f5f8');
logo.append('text').text('CLIMATE').attr('x', 588).attr('y', 473)
  .attr('font-size', 11.5).attr('font-weight', 700).attr('letter-spacing', 1.6);
logo.append('text').text('CENTRAL').attr('x', 681).attr('y', 473)
  .attr('font-size', 11.5).attr('font-weight', 700).attr('letter-spacing', 1.6);
logo.selectAll('circle').data([659, 671]).join('circle')
  .attr('cx', d => d).attr('cy', 469).attr('r', 5)
  .attr('fill', 'none').attr('stroke', '#f2f5f8').attr('stroke-width', 2.4);
</script>
</body>
</html>
